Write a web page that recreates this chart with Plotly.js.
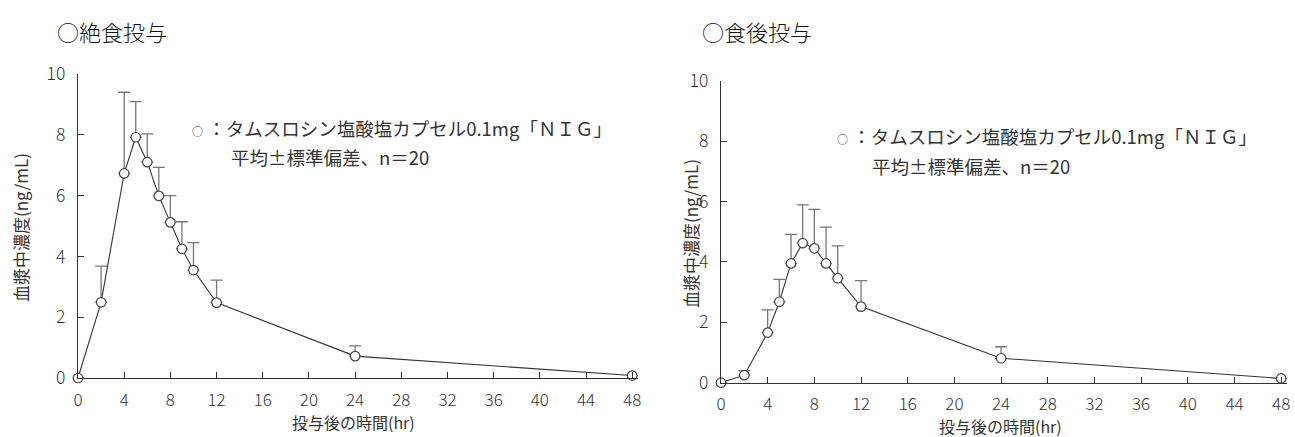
<!DOCTYPE html>
<html><head><meta charset="utf-8">
<script src="https://cdn.plot.ly/plotly-3.0.1.min.js"></script>
<style>html,body{margin:0;padding:0;background:#fff}#c{width:1295px;height:437px}</style>
</head><body><div id="c"></div>
<script>
const times = [0, 2, 4, 5, 6, 7, 8, 9, 10, 12, 24, 48];
const fastingMean = [0, 2.49, 6.73, 7.92, 7.10, 5.99, 5.12, 4.25, 3.55, 2.48, 0.72, 0.08];
const fastingSD   = [null, 1.19, 2.67, 1.17, 0.93, 0.94, 0.88, 0.89, 0.90, 0.74, 0.34, null];
const fedMean = [0, 0.25, 1.66, 2.68, 3.95, 4.62, 4.45, 3.95, 3.46, 2.52, 0.81, 0.14];
const fedSD   = [null, 0.15, 0.75, 0.74, 0.96, 1.27, 1.29, 1.20, 1.07, 0.86, 0.38, null];
const xTicks = [0, 4, 8, 12, 16, 20, 24, 28, 32, 36, 40, 44, 48];
const yTicks = [0, 2, 4, 6, 8, 10];
const panelTitles = ["○絶食投与", "○食後投与"];
const legendMark = "○";
const legendLine1 = "：タムスロシン塩酸塩カプセル0.1mg「ＮＩＧ」";
const legendLine2 = "平均±標準偏差、n＝20";
const xTitle = "投与後の時間(hr)";
const yTitle = "血漿中濃度(ng/mL)";

const F = '"Noto Sans CJK JP", "Noto Sans", sans-serif';
const txt = '#333';
function trace(y, sd, xa, ya) {
  return {
    x: times, y: y, xaxis: xa, yaxis: ya, type: 'scatter', mode: 'lines+markers',
    line: {color: '#333', width: 1.1},
    marker: {symbol: 'circle', size: 9.5, color: '#fff', line: {color: '#444', width: 1.2}},
    error_y: {type: 'data', symmetric: false, array: sd, arrayminus: sd.map(() => 0),
              color: '#777', thickness: 1.3, width: 6},
    cliponaxis: false, showlegend: false, hoverinfo: 'skip'
  };
}
function xax(domain) {
  return {domain: domain, range: [0, 48.5], tickvals: xTicks, ticks: 'inside', ticklen: 6,
    tickcolor: '#333', showline: true, linecolor: '#333', linewidth: 1.2, showgrid: false,
    zeroline: false, tickfont: {family: F, size: 17, color: txt, weight: 300}, ticklabelstandoff: 6, fixedrange: true};
}
function yax(domain, anchor) {
  return {domain: domain, range: [0, 10], tickvals: yTicks, ticks: 'inside', ticklen: 6,
    tickcolor: '#333', showline: true, linecolor: '#333', linewidth: 1.2, showgrid: false,
    zeroline: false, tickfont: {family: F, size: 17.5, color: txt, weight: 300}, ticklabelstandoff: 8,
    anchor: anchor, fixedrange: true};
}
const W = 1295, H = 437;
const px = v => v / W, py = v => 1 - v / H;
const ann = [];
function A(text, x, y, size, opts) {
  const o = Object.assign({}, opts || {});
  const f = Object.assign({family: F, size: size, color: txt}, o.font || {});
  delete o.font;
  ann.push(Object.assign({text: text, x: px(x), y: py(y), xref: 'paper', yref: 'paper',
    showarrow: false, font: f, xanchor: 'left', yanchor: 'middle'}, o));
}
const markSpan = '<span style="font-size:11px">' + legendMark + '</span> ';
A(panelTitles[0], 55, 31, 22, {font: {color: '#111', weight: 300}});
A(panelTitles[1], 700, 31, 22, {font: {color: '#111', weight: 300}});
A(markSpan + legendLine1, 190, 128, 18.5);
A(legendLine2, 229, 157, 18.5);
A(markSpan + legendLine1, 835, 136, 18.5);
A(legendLine2, 870, 166, 18.5);
A(xTitle, 354, 422, 16);
ann[ann.length - 1].xanchor = 'center';
A(xTitle, 1000, 426, 16);
ann[ann.length - 1].xanchor = 'center';
A(yTitle, 20, 228, 17, {xanchor: 'center', textangle: -90});
A(yTitle, 690, 234, 17, {xanchor: 'center', textangle: -90});

const layout = {
  width: W, height: H, margin: {l: 0, r: 0, t: 0, b: 0},
  paper_bgcolor: '#fff', plot_bgcolor: '#fff', showlegend: false,
  xaxis: Object.assign(xax([px(78), px(638)]), {anchor: 'y'}),
  yaxis: yax([py(378), py(74)], 'x'),
  xaxis2: Object.assign(xax([px(721), px(1287)]), {anchor: 'y2'}),
  yaxis2: yax([py(382.7), py(80.7)], 'x2'),
  annotations: ann
};
Plotly.newPlot('c', [trace(fastingMean, fastingSD, 'x', 'y'), trace(fedMean, fedSD, 'x2', 'y2')],
  layout, {staticPlot: true, displayModeBar: false});
</script></body></html>
